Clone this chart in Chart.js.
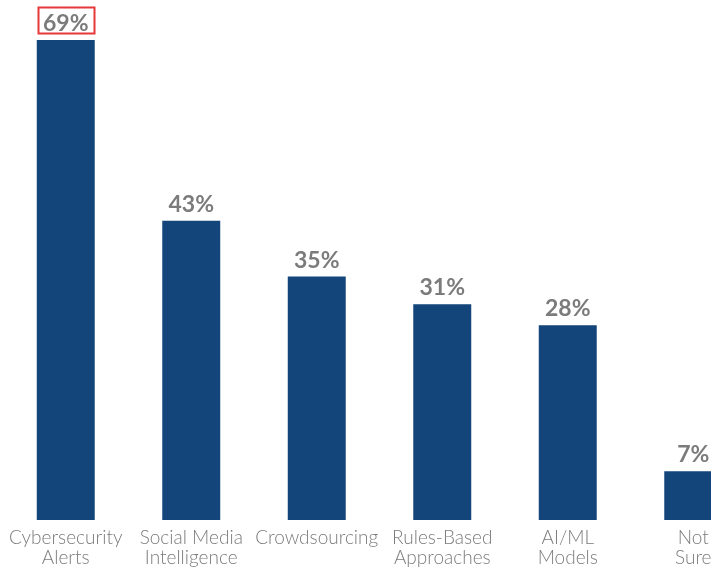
<!DOCTYPE html>
<html>
<head>
<meta charset="utf-8">
<script src="https://cdn.jsdelivr.net/npm/chart.js@4/dist/chart.umd.min.js"></script>
<style>
  html, body { margin: 0; padding: 0; background: #fff; overflow: hidden; }
  #wrap { width: 711px; height: 569px; overflow: hidden; }
</style>
</head>
<body>
<div id="wrap"><canvas id="chart" width="760" height="569"></canvas></div>
<script>
  /* === data === */
  var categories = [
    ['Cybersecurity', 'Alerts'],
    ['Social Media', 'Intelligence'],
    ['Crowdsourcing'],
    ['Rules-Based', 'Approaches'],
    ['AI/ML', 'Models'],
    ['Not', 'Sure']
  ];
  var values = [69, 43, 35, 31, 28, 7];
  var highlighted = [0];

  var barColor = '#13457a';
  var textGray = '#7b7b7b';

  // value labels above bars, red box around highlighted ones
  var valueLabels = {
    id: 'valueLabels',
    afterDatasetsDraw: function (chart) {
      var ctx = chart.ctx;
      var meta = chart.getDatasetMeta(0);
      ctx.save();
      ctx.font = 'bold 23px Lato, sans-serif';
      ctx.fillStyle = textGray;
      ctx.textAlign = 'center';
      ctx.textBaseline = 'alphabetic';
      meta.data.forEach(function (bar, i) {
        var txt = values[i] + '%';
        var y = bar.y - 9;
        ctx.fillText(txt, bar.x, y);
        if (highlighted.indexOf(i) !== -1) {
          var w = ctx.measureText(txt).width;
          ctx.strokeStyle = '#e8373a';
          ctx.lineWidth = 2;
          ctx.strokeRect(Math.round(bar.x - w / 2 - 5) + 0.5, y - 23.5, Math.round(w + 10), 26);
        }
      });
      ctx.restore();
    }
  };

  new Chart(document.getElementById('chart'), {
    type: 'bar',
    data: {
      labels: categories,
      datasets: [{
        data: values,
        backgroundColor: barColor,
        categoryPercentage: 1,
        barPercentage: 0.462,
      }],
    },
    options: {
      responsive: false,
      animation: false,
      layout: { padding: { left: 3, right: 4, top: 40, bottom: 0 } },
      plugins: { legend: { display: false }, tooltip: { enabled: false } },
      scales: {
        x: {
          grid: { display: false, drawTicks: false },
          border: { display: false },
          ticks: {
            color: textGray,
            padding: 8,
            maxRotation: 0,
            autoSkip: false,
            font: { family: 'Lato, sans-serif', size: 19, weight: 300, lineHeight: 1.05 },
          },
          afterFit: function (scale) { scale.height = 49; },
        },
        y: {
          display: false,
          min: 0,
          max: 69,
        },
      },
    },
    plugins: [valueLabels],
  });
</script>
</body>
</html>
